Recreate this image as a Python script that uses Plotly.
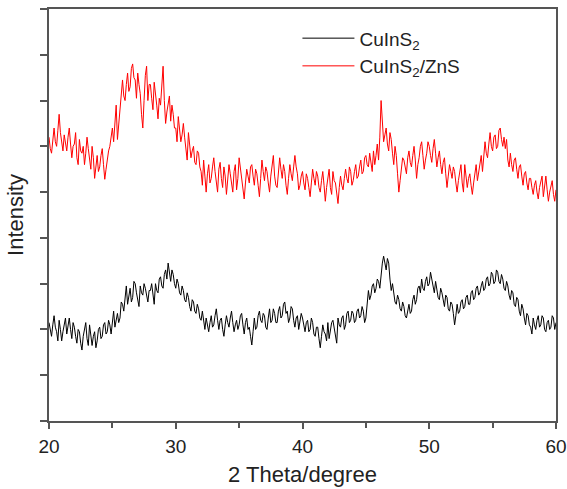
import plotly.graph_objects as go

# 2-theta positions (degree), step 0.1
two_theta = [round(20 + 0.1 * i, 1) for i in range(401)]

# Intensity (a.u.) of CuInS2 (20 values = 2 degrees per row)
cuins2 = [
    215, 200, 185, 210, 230, 205, 195, 175, 220, 200, 175, 195, 210, 225, 190, 205, 225, 200, 180, 215,
    205, 185, 170, 200, 195, 170, 155, 185, 200, 215, 180, 165, 210, 190, 165, 185, 195, 160, 175, 200,
    205, 180, 185, 210, 215, 190, 195, 220, 210, 190, 215, 240, 205, 225, 235, 215, 225, 260, 255, 240,
    270, 295, 255, 275, 290, 260, 270, 305, 300, 280, 265, 250, 295, 280, 275, 300, 290, 270, 260, 285,
    285, 300, 270, 255, 300, 285, 280, 310, 315, 295, 290, 320, 330, 310, 345, 325, 305, 330, 320, 300,
    290, 310, 300, 280, 275, 295, 285, 265, 260, 280, 270, 250, 240, 265, 260, 240, 235, 255, 245, 225,
    220, 240, 215, 200, 225, 210, 195, 215, 230, 205, 210, 230, 245, 220, 200, 220, 225, 200, 185, 210,
    230, 215, 205, 225, 240, 215, 195, 210, 220, 200, 210, 230, 235, 210, 190, 215, 225, 200, 205, 185,
    166, 195, 225, 200, 205, 230, 240, 220, 215, 235, 230, 205, 200, 225, 245, 215, 220, 245, 235, 215,
    215, 240, 250, 225, 230, 255, 260, 235, 240, 215, 225, 250, 245, 220, 205, 225, 230, 200, 215, 235,
    225, 205, 195, 215, 220, 195, 200, 225, 215, 190, 185, 205, 205, 180, 160, 185, 210, 195, 190, 175,
    215, 180, 195, 215, 220, 200, 185, 170, 225, 210, 205, 225, 230, 200, 210, 235, 240, 215, 220, 240,
    235, 215, 220, 240, 245, 225, 230, 250, 240, 215, 225, 260, 285, 265, 275, 295, 300, 280, 290, 310,
    305, 290, 325, 345, 360, 340, 330, 355, 345, 310, 285, 300, 275, 260, 255, 275, 265, 245, 240, 260,
    250, 230, 225, 245, 255, 235, 240, 265, 275, 255, 265, 290, 295, 280, 310, 290, 285, 305, 315, 295,
    300, 325, 310, 290, 280, 305, 290, 270, 265, 290, 280, 260, 250, 275, 270, 245, 240, 260, 255, 235,
    210, 230, 255, 235, 240, 260, 265, 245, 250, 270, 275, 255, 255, 280, 285, 265, 270, 290, 295, 275,
    280, 295, 305, 285, 290, 310, 315, 295, 300, 325, 320, 300, 305, 330, 325, 305, 300, 320, 310, 290,
    285, 305, 295, 275, 265, 285, 280, 255, 250, 270, 265, 240, 230, 255, 245, 225, 210, 235, 230, 210,
    205, 190, 225, 210, 200, 220, 230, 205, 210, 230, 225, 200, 195, 215, 220, 200, 205, 230, 225, 200,
    215,
]

# Intensity (a.u.) of CuInS2/ZnS
cuins2_zns = [
    620, 595, 585, 615, 640, 610, 600, 635, 670, 630, 610, 590, 625, 605, 590, 620, 640, 605, 575, 600,
    605, 630, 575, 560, 615, 590, 585, 600, 560, 585, 620, 595, 570, 550, 600, 575, 530, 555, 580, 545,
    555, 580, 595, 560, 528, 550, 575, 590, 600, 625, 640, 610, 665, 690, 615, 650, 680, 720, 745, 710,
    700, 735, 760, 720, 730, 770, 780, 750, 745, 705, 760, 735, 715, 670, 640, 700, 755, 775, 700, 735,
    735, 705, 680, 740, 720, 690, 660, 705, 690, 730, 775, 700, 650, 675, 690, 710, 655, 690, 670, 640,
    640, 610, 665, 635, 610, 625, 650, 620, 600, 570, 630, 605, 575, 590, 600, 565, 560, 590, 585, 555,
    545, 515, 570, 535, 500, 540, 560, 520, 530, 555, 575, 545, 520, 500, 550, 565, 530, 510, 555, 535,
    495, 530, 560, 540, 520, 500, 545, 560, 505, 530, 575, 550, 530, 510, 485, 520, 550, 535, 520, 555,
    560, 535, 515, 550, 540, 515, 490, 530, 570, 545, 525, 555, 545, 520, 500, 535, 560, 580, 535, 515,
    510, 545, 575, 550, 530, 560, 545, 515, 495, 530, 560, 540, 525, 555, 580, 555, 540, 505, 515, 535,
    545, 520, 505, 540, 530, 510, 490, 520, 550, 530, 515, 545, 535, 510, 500, 525, 545, 515, 480, 510,
    530, 550, 510, 495, 545, 525, 520, 500, 475, 510, 535, 515, 505, 530, 550, 530, 520, 555, 545, 515,
    525, 545, 560, 530, 535, 555, 570, 540, 545, 575, 580, 560, 555, 585, 565, 545, 590, 560, 580, 605,
    570, 620, 700, 650, 610, 625, 640, 605, 590, 630, 615, 585, 560, 600, 580, 540, 500, 525, 545, 575,
    570, 550, 540, 575, 590, 565, 555, 580, 600, 570, 530, 560, 575, 600, 610, 580, 550, 570, 585, 610,
    600, 580, 565, 595, 615, 585, 555, 575, 590, 560, 540, 565, 575, 540, 510, 535, 560, 545, 530, 555,
    545, 520, 500, 525, 545, 560, 520, 500, 560, 535, 510, 530, 540, 515, 495, 520, 545, 560, 525, 545,
    565, 580, 545, 590, 610, 585, 575, 605, 630, 600, 590, 620, 625, 595, 600, 635, 640, 615, 600, 620,
    595, 615, 570, 555, 585, 560, 545, 570, 575, 550, 530, 555, 560, 535, 515, 540, 545, 520, 505, 530,
    530, 510, 495, 515, 525, 500, 485, 510, 520, 535, 490, 515, 535, 505, 480, 500, 510, 525, 495, 480,
    505,
]

assert len(cuins2) == len(two_theta) == len(cuins2_zns)

x_ticks = [20, 30, 40, 50, 60]
series_names = ["CuInS<sub>2</sub>", "CuInS<sub>2</sub>/ZnS"]

FONT = "Liberation Sans, Arial, sans-serif"
AX = "#555555"
TXT = "#222222"

fig = go.Figure()
fig.add_trace(go.Scatter(x=two_theta, y=cuins2, mode="lines", name=series_names[0],
                         line=dict(color="#000000", width=1.0)))
fig.add_trace(go.Scatter(x=two_theta, y=cuins2_zns, mode="lines", name=series_names[1],
                         line=dict(color="#ff0000", width=1.0)))

fig.update_layout(
    width=567, height=489,
    margin=dict(l=49, r=11, t=9, b=68, autoexpand=False),
    paper_bgcolor="white", plot_bgcolor="white",
    font=dict(family=FONT, color=TXT),
    showlegend=True,
    legend=dict(x=0.49, y=0.975, xanchor="left", yanchor="top",
                bgcolor="rgba(0,0,0,0)", font=dict(size=19, family=FONT, color=TXT),
                itemwidth=52, tracegroupgap=0),
)
fig.update_xaxes(
    range=[20, 60], tickvals=x_ticks, ticktext=[str(v) for v in x_ticks],
    ticks="outside", ticklen=6, tickwidth=1.5, tickcolor=AX,
    minor=dict(dtick=5, ticks="outside", ticklen=5, tickwidth=1.5, tickcolor=AX),
    showline=True, linecolor=AX, linewidth=1.5, mirror=True,
    showgrid=False, zeroline=False, automargin=False,
    ticklabelstandoff=1,
    tickfont=dict(size=19, family=FONT, color=TXT),
    title=dict(text="2 Theta/degree", font=dict(size=22, family=FONT, color=TXT), standoff=11),
)
fig.update_yaxes(
    range=[0, 900], dtick=100, tick0=0,
    ticks="outside", ticklen=7, tickwidth=1.5, tickcolor=AX,
    showticklabels=False,
    showline=True, linecolor=AX, linewidth=1.5, mirror=True,
    showgrid=False, zeroline=False, automargin=False,
    title=dict(text="Intensity", font=dict(size=22, family=FONT, color=TXT), standoff=11),
)

fig.write_html(
    "out.html",
    config={"displayModeBar": False},
    post_script="document.body.style.margin='0';document.body.style.overflow='hidden';",
)
